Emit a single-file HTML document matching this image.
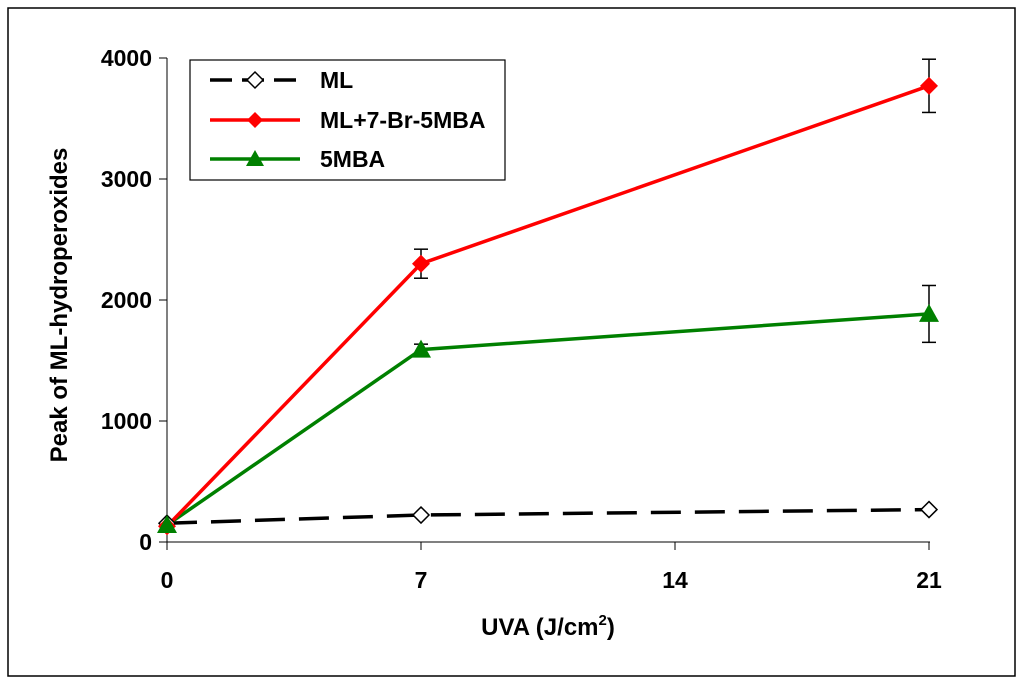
<!DOCTYPE html>
<html><head><meta charset="utf-8"><style>
body{margin:0;background:#fff;}
svg{display:block;font-family:"Liberation Sans",Arial,sans-serif;font-weight:bold;}
</style></head><body>
<svg width="1024" height="692" viewBox="0 0 1024 692">
<rect x="8" y="8" width="1007" height="668" fill="#fff" stroke="#000" stroke-width="1.5"/>
<g id="axes"></g>
<g id="series"></g>
<text x="548" y="635" font-size="24" text-anchor="middle">UVA (J/cm<tspan dy="-10" font-size="15">2</tspan><tspan dy="10">)</tspan></text>
<text transform="translate(67,305) rotate(-90)" font-size="24" text-anchor="middle">Peak of ML-hydroperoxides</text>
<g>
<rect x="190" y="60" width="315" height="120" fill="#fff" stroke="#000" stroke-width="1.2"/>
<g>
<line x1="210" y1="80" x2="300" y2="80" stroke="#000" stroke-width="3.5" stroke-dasharray="22,10"/>
<polygon points="255,72 263,80 255,88 247,80" fill="#fff" stroke="#000" stroke-width="1.5"/>
<text x="320" y="88" font-size="23">ML</text></g>
<g>
<line x1="210" y1="120" x2="300" y2="120" stroke="#f00" stroke-width="3.5"/>
<polygon points="255,112 263,120 255,128 247,120" fill="#f00"/>
<text x="320" y="128" font-size="23">ML+7-Br-5MBA</text></g>
<g>
<line x1="210" y1="159" x2="300" y2="159" stroke="#008000" stroke-width="3.5"/>
<polygon points="255,150 264,166 246,166" fill="#008000"/>
<text x="320" y="167" font-size="23">5MBA</text></g>
</g>
</svg>
<script>
const xCats=[0,7,21];
const xTicks=[0,7,14,21];
const yTicks=[0,1000,2000,3000,4000];
const mlVals=[155,223,268];
const brVals=[130,2300,3770];
const brErr=[0,120,220];
const mbaVals=[140,1590,1885];
const mbaErr=[0,45,235];
const NS="http://www.w3.org/2000/svg";
const X=v=>167+v*(762/21);
const Y=v=>542-v*(484/4000);
function mk(t,a,p){const e=document.createElementNS(NS,t);for(const k in a)e.setAttribute(k,a[k]);p.appendChild(e);return e;}
const ax=document.getElementById('axes'),sr=document.getElementById('series');
let l=mk('line',{x1:167,y1:542,x2:930,y2:542,stroke:'#000','stroke-width':1},ax);


l=mk('line',{x1:167,y1:58,x2:167,y2:542,stroke:'#000','stroke-width':1},ax);


xTicks.forEach(v=>{mk('line',{x1:X(v),y1:542,x2:X(v),y2:550,stroke:'#000'},ax);
const t=mk('text',{x:X(v),y:588,'font-size':23,'text-anchor':'middle'},ax);t.textContent=v;

});
yTicks.forEach(v=>{mk('line',{x1:159,y1:Y(v),x2:167,y2:Y(v),stroke:'#000'},ax);
const t=mk('text',{x:152,y:Y(v)+8,'font-size':23,'text-anchor':'end'},ax);t.textContent=v;

});
function pts(vals){return vals.map((v,i)=>X(xCats[i])+','+Y(v)).join(' ');}
function errs(vals,er){vals.forEach((v,i)=>{if(!er[i])return;const x=X(xCats[i]);
mk('line',{x1:x,y1:Y(v+er[i]),x2:x,y2:Y(v-er[i]),stroke:'#000','stroke-width':1.5},sr);
[v+er[i],v-er[i]].forEach(e=>mk('line',{x1:x-7,y1:Y(e),x2:x+7,y2:Y(e),stroke:'#000','stroke-width':1.5},sr));});}
errs(brVals,brErr);errs(mbaVals,mbaErr);
let p=mk('polyline',{points:pts(mlVals),fill:'none',stroke:'#000','stroke-width':3.5,'stroke-dasharray':'30,14'},sr);


p=mk('polyline',{points:pts(mbaVals),fill:'none',stroke:'#008000','stroke-width':3.5},sr);


p=mk('polyline',{points:pts(brVals),fill:'none',stroke:'#f00','stroke-width':3.5},sr);


mlVals.forEach((v,i)=>{const x=X(xCats[i]),y=Y(v);const m=mk('polygon',{points:`${x},${y-8} ${x+8},${y} ${x},${y+8} ${x-8},${y}`,fill:'#fff',stroke:'#000','stroke-width':1.5},sr);

});
brVals.forEach((v,i)=>{const x=X(xCats[i]),y=Y(v);const m=mk('polygon',{points:`${x},${y-9} ${x+9},${y} ${x},${y+9} ${x-9},${y}`,fill:'#f00'},sr);

});
mbaVals.forEach((v,i)=>{const x=X(xCats[i]),y=Y(v);const m=mk('polygon',{points:`${x},${y-10} ${x+10},${y+8} ${x-10},${y+8}`,fill:'#008000'},sr);

});
</script>
</body></html>
